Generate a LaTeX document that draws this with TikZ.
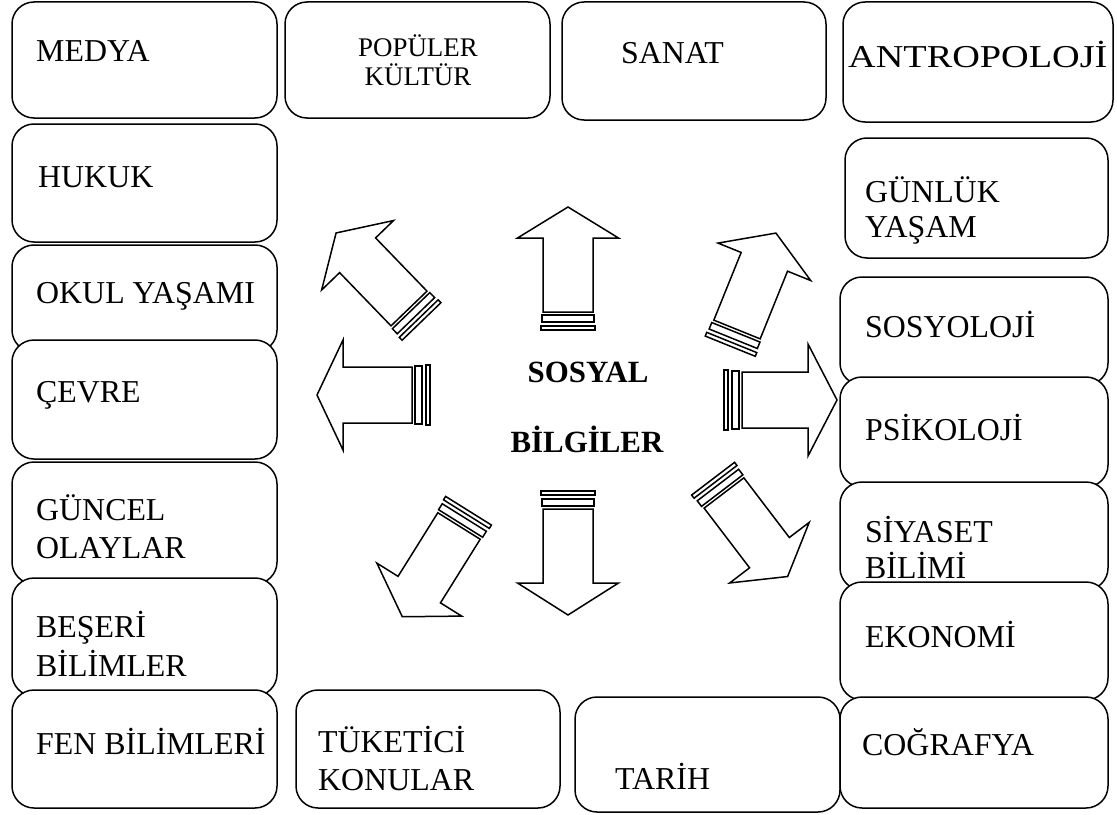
\documentclass[tikz,border=0pt]{standalone}
\usepackage{fontspec}
\setmainfont{Liberation Serif}
\tikzset{
  box/.style={draw, line width=1.5bp, rounded corners=22bp, fill=white, inner sep=0pt, outer sep=0pt, anchor=north west},
  lbl/.style={anchor=base west, inner sep=0pt, font=\fontsize{32}{36}\selectfont},
  smalllbl/.style={anchor=base, inner sep=0pt, font=\fontsize{27}{30}\selectfont},
  boldlbl/.style={anchor=base, inner sep=0pt, font=\fontsize{31}{36}\selectfont\bfseries},
  arrline/.style={draw, line width=1.5bp, fill=white, line join=miter},
}
\newcommand\topicbox[5]{\node[box, minimum width=#4bp, minimum height=#5bp] (#1) at (#2,#3) {};}
\newcommand\blockarr[7]{%
  \begin{scope}[shift={(#1,#2)}, rotate=#3]
    \draw[arrline] (0,-#6) -- (#4,-#6) -- (#4,-#7) -- ({#4+#5},0) -- (#4,#7) -- (#4,#6) -- (0,#6) -- cycle;
    \draw[arrline] (-3,-#6-1) rectangle (-10,#6+1);
    \draw[arrline] (-14,-#6-2) rectangle (-18,#6+2);
  \end{scope}}
\begin{document}
\begin{tikzpicture}[x=1bp, y=-1bp]
\useasboundingbox (0,0) rectangle (1117,815);
\fill[white] (0,0) rectangle (1117,815);
% left column
\topicbox{medya}{12}{2}{265}{116}
\node[lbl] (medya-t) at (36,62) {MEDYA};
\topicbox{hukuk}{12}{124}{265}{118}
\node[lbl] (hukuk-t) at (38,187) {HUKUK};
\topicbox{okul}{12}{245}{265}{107}
\node[lbl] (okul-t) at (36,303) {OKUL YAŞAMI};
\topicbox{cevre}{12}{340}{265}{119}
\node[lbl] (cevre-t) at (36,402) {ÇEVRE};
\topicbox{guncel}{12}{462}{265}{122}
\node[lbl] (guncel-t1) at (36,520) {GÜNCEL};
\node[lbl] (guncel-t2) at (36,558) {OLAYLAR};
\topicbox{beseri}{12}{578}{265}{118}
\node[lbl] (beseri-t1) at (36,637) {BEŞERİ};
\node[lbl] (beseri-t2) at (36,676) {BİLİMLER};
\topicbox{fen}{12}{690}{265}{118}
\node[lbl] (fen-t) at (36,754) {FEN BİLİMLERİ};
% top row
\topicbox{populer}{285}{2}{265}{116}
\node[smalllbl] (populer-t1) at (418,57) {POPÜLER};
\node[smalllbl] (populer-t2) at (418,86) {KÜLTÜR};
\topicbox{sanat}{562}{2}{264}{118}
\node[lbl] (sanat-t) at (621,64) {SANAT};
\topicbox{antro}{843}{2}{270}{120}
\node[lbl] (antro-t) at (848,68) {\scalebox{1.2}[1]{ANTROPOLOJİ}};
% right column
\topicbox{gunluk}{845}{138}{263}{120}
\node[lbl] (gunluk-t1) at (865,202) {GÜNLÜK};
\node[lbl] (gunluk-t2) at (865,237) {YAŞAM};
\topicbox{sosyo}{840}{277}{268}{108}
\node[lbl] (sosyo-t) at (865,337) {SOSYOLOJİ};
\topicbox{psiko}{840}{377}{268}{110}
\node[lbl] (psiko-t) at (865,440) {PSİKOLOJİ};
\topicbox{siyaset}{840}{482}{268}{108}
\node[lbl] (siyaset-t1) at (865,542) {SİYASET};
\node[lbl] (siyaset-t2) at (865,578) {BİLİMİ};
\topicbox{ekonomi}{840}{582}{268}{118}
\node[lbl] (ekonomi-t) at (865,647) {EKONOMİ};
% bottom row
\topicbox{tuketici}{296}{690}{264}{118}
\node[lbl] (tuketici-t1) at (318,752) {TÜKETİCİ};
\node[lbl] (tuketici-t2) at (318,790) {KONULAR};
\topicbox{tarih}{575}{697}{265}{115}
\node[lbl] (tarih-t) at (615,789) {TARİH};
\topicbox{cografya}{840}{697}{268}{111}
\node[lbl] (cografya-t) at (862,755) {COĞRAFYA};
% centre
\node[boldlbl] (sosyal) at (588,382) {SOSYAL};
\node[boldlbl] (bilgiler) at (587,452) {BİLGİLER};
% arrows
\blockarr{568}{312}{90}{74}{31}{25}{50.5}
\blockarr{568}{509}{-90}{74}{32}{25}{50.5}
\blockarr{412}{395}{180}{69}{26}{28}{55}
\blockarr{742}{400}{0}{66}{29}{28}{56}
\blockarr{409}{308.5}{134}{74}{31}{25}{50}
\blockarr{737}{329.5}{68}{73}{31}{25}{50}
\blockarr{459}{526}{238}{75}{32}{25}{50}
\blockarr{724}{493}{-52.7}{75}{30}{25}{50}
\end{tikzpicture}
\end{document}
